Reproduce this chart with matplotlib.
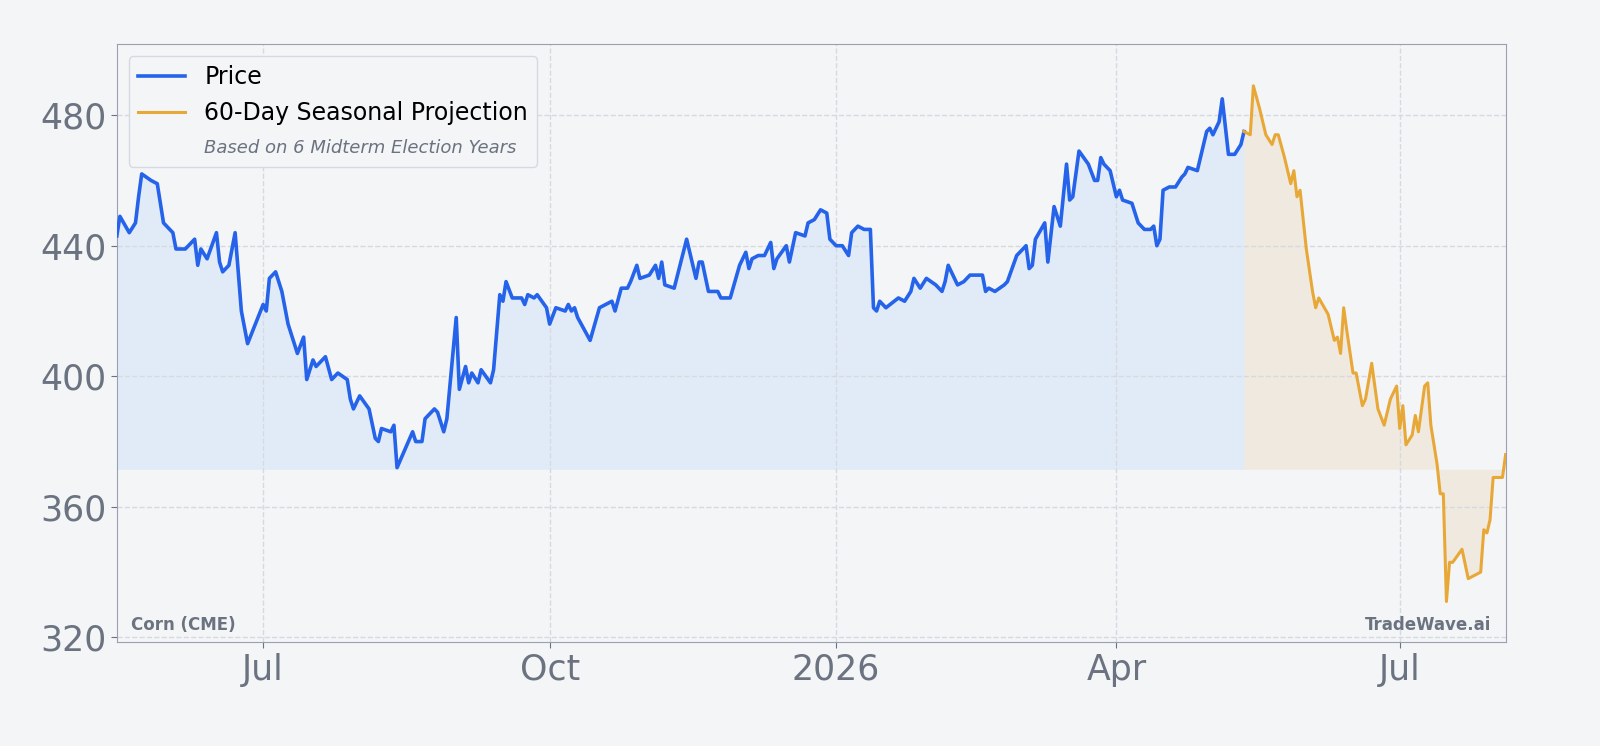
import numpy as np
import pandas as pd
import matplotlib.pyplot as plt
import matplotlib.dates as mdates
from matplotlib.lines import Line2D

# day offsets from 2025-07-01 and prices
price_days = [-47, -46, -43, -41, -40, -39, -36, -34, -32, -29, -28, -25, -22, -21, -20, -18, -15, -14, -13, -11,
              -9, -7, -5, 0, 1, 2, 4, 6, 8, 9, 11, 13, 14, 16, 17, 20, 22, 24, 27, 28, 29, 31, 34, 36, 37, 38,
              41, 42, 43, 48, 49, 51, 52, 55, 56, 58, 59, 62, 63, 65, 66, 67, 69, 70, 73, 74, 76, 77, 78, 80,
              83, 84, 85, 87, 88, 91, 92, 94, 97, 98, 99, 100, 101, 105, 108, 112, 113, 115, 117, 118, 120, 121,
              124, 126, 127, 128, 129, 132, 136, 139, 140, 141, 143, 146, 147, 150, 153, 155, 156, 157, 159, 161,
              163, 164, 165, 168, 169, 171, 174, 175, 177, 179, 181, 182, 184, 186, 188, 189, 191, 193, 195, 196,
              197, 198, 200, 204, 206, 208, 209, 211, 213, 216, 218, 219, 220, 222, 223, 225, 227, 228, 231, 232,
              233, 235, 238, 239, 242, 245, 246, 247, 248, 251, 252, 254, 256, 258, 259, 260, 262, 265, 267, 268,
              269, 270, 272, 274, 275, 276, 279, 281, 283, 285, 286, 287, 288, 289, 291, 293, 295, 296, 297, 300,
              303, 304, 305, 307, 308, 310, 312, 314, 315]
price_vals = [443, 449, 444, 447, 455, 462, 460, 459, 447, 444, 439, 439, 442, 434, 439, 436, 444, 435, 432, 434,
              444, 420, 410, 422, 420, 430, 432, 426, 416, 413, 407, 412, 399, 405, 403, 406, 399, 401, 399, 393,
              390, 394, 390, 381, 380, 384, 383, 385, 372, 383, 380, 380, 387, 390, 389, 383, 387, 418, 396, 403,
              398, 401, 398, 402, 398, 402, 425, 423, 429, 424, 424, 422, 425, 424, 425, 421, 416, 421, 420, 422,
              420, 421, 418, 411, 421, 423, 420, 427, 427, 429, 434, 430, 431, 434, 430, 435, 428, 427, 442, 430,
              435, 435, 426, 426, 424, 424, 434, 438, 433, 436, 437, 437, 441, 433, 436, 440, 435, 444, 443, 447,
              448, 451, 450, 442, 440, 440, 437, 444, 446, 445, 445, 421, 420, 423, 421, 424, 423, 426, 430, 427,
              430, 428, 426, 429, 434, 430, 428, 429, 431, 431, 431, 426, 427, 426, 428, 429, 437, 440, 433, 434,
              442, 447, 435, 452, 446, 465, 454, 455, 469, 465, 460, 460, 467, 465, 463, 455, 457, 454, 453, 447,
              445, 445, 446, 440, 442, 457, 458, 458, 461, 462, 464, 463, 475, 476, 474, 478, 485, 468, 468, 471,
              475]
proj_days = [315, 317, 318, 320, 322, 324, 325, 326, 328, 330, 331, 332, 333, 335, 337, 338, 339, 342, 344, 345,
             346, 347, 348, 350, 351, 353, 354, 356, 358, 360, 362, 364, 365, 366, 367, 369, 370, 371, 373, 374,
             375, 377, 378, 379, 380, 381, 382, 385, 387, 389, 391, 392, 393, 394, 395, 398, 399]
proj_vals = [475, 474, 489, 482, 474, 471, 474, 474, 467, 459, 463, 455, 457, 439, 426, 421, 424, 419, 411, 412,
             407, 421, 414, 401, 401, 391, 393, 404, 390, 385, 393, 397, 384, 391, 379, 382, 388, 383, 397, 398,
             385, 373, 364, 364, 331, 343, 343, 347, 338, 339, 340, 353, 352, 356, 369, 369, 376]
baseline = 371.5

start = pd.Timestamp("2025-07-01")
px = start + pd.to_timedelta(price_days, unit="D")
pj = start + pd.to_timedelta(proj_days, unit="D")

bg = "#f4f5f7"
fig = plt.figure(figsize=(16, 7.46), dpi=100, facecolor=bg)
ax = fig.add_axes([0.073, 0.139, 0.868, 0.802], facecolor=bg)

ax.fill_between(px, price_vals, baseline, color="#cfe2f7", alpha=0.5, lw=0)
ax.fill_between(pj, proj_vals, baseline, color="#eddcc4", alpha=0.45, lw=0)
ax.plot(px, price_vals, color="#2563eb", lw=2.6, zorder=3)
ax.plot(pj, proj_vals, color="#e8a838", lw=2.2, zorder=3)

ax.set_xlim(start - pd.Timedelta(days=47), start + pd.Timedelta(days=399))
ax.set_ylim(318.5, 501.8)
ax.set_yticks([320, 360, 400, 440, 480])
ax.xaxis.set_major_locator(mdates.MonthLocator(bymonth=[1, 4, 7, 10]))
ax.xaxis.set_major_formatter(mdates.ConciseDateFormatter(ax.xaxis.get_major_locator()))
ax.tick_params(labelsize=25, colors="#6b7280", length=4)
ax.grid(True, ls="--", color="#d5d9e0", lw=1)
for s in ax.spines.values():
    s.set_color("#9aa0b0")

handles = [Line2D([], [], color="#2563eb", lw=2.6),
           Line2D([], [], color="#e8a838", lw=2.2),
           Line2D([], [], color="none")]
leg = ax.legend(handles, ["Price", "60-Day Seasonal Projection", "Based on 6 Midterm Election Years"],
                loc="upper left", fontsize=17, facecolor=bg, edgecolor="#d5d9e0", framealpha=1)
t = leg.get_texts()[2]
t.set_fontsize(13)
t.set_style("italic")
t.set_color("#6b7280")

ax.text(0.01, 0.02, "Corn (CME)", transform=ax.transAxes, fontsize=12, fontweight="bold", color="#6b7280")
ax.text(0.99, 0.02, "TradeWave.ai", transform=ax.transAxes, fontsize=12, fontweight="bold",
        color="#6b7280", ha="right")

fig.savefig("out.png", dpi=100, facecolor=bg)
